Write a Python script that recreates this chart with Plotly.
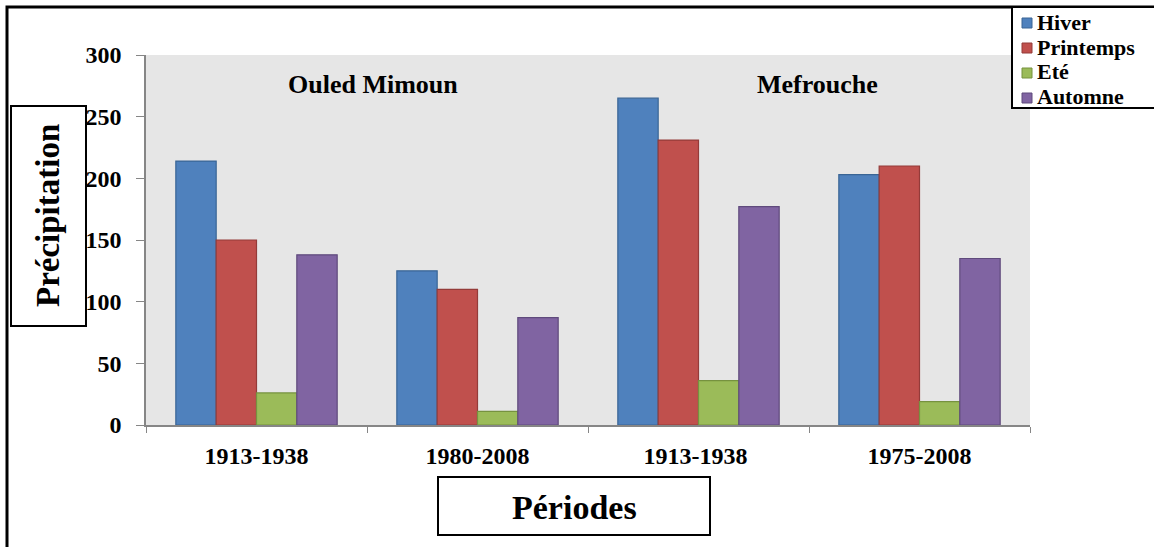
import plotly.graph_objects as go

# data
periodes = ["1913-1938", "1980-2008", "1913-1938 ", "1975-2008"]
hiver = [214, 125, 265, 203]
printemps = [150, 110, 231, 210]
ete = [26, 11, 36, 19]
automne = [138, 87, 177, 135]

saisons = ["Hiver", "Printemps", "Eté", "Automne"]
valeurs = [hiver, printemps, ete, automne]
couleurs = ["#4F81BD", "#C0504D", "#9BBB59", "#8064A2"]
contours = ["#3A6595", "#943B39", "#76923F", "#5F4A7C"]

W, H = 1154, 547
L, R, T, B = 146, 1030, 55, 425  # plot area in pixels


def px(x):
    return (x - L) / (R - L)


def py(y):
    return (B - y) / (B - T)


FONT = "Liberation Serif"

fig = go.Figure()
for nom, vals, c, lc in zip(saisons, valeurs, couleurs, contours):
    fig.add_trace(go.Bar(
        x=periodes, y=vals, name=nom,
        marker=dict(color=c, line=dict(color=lc, width=1.2)),
    ))

fig.update_layout(
    width=W, height=H,
    margin=dict(l=L, r=W - R, t=T, b=H - B, autoexpand=False),
    paper_bgcolor="white",
    plot_bgcolor="#E6E6E6",
    barmode="group",
    bargap=0.27,
    bargroupgap=0,
    font=dict(family=FONT, color="black"),
    showlegend=False,
)

fig.update_xaxes(
    showline=True, linecolor="#868686", linewidth=1.5,
    ticks="outside", tickson="boundaries", ticklen=6, tickcolor="#868686",
    tickfont=dict(family=FONT, size=24, weight="bold"),
    ticklabelstandoff=8,
    showgrid=False, zeroline=False,
)
fig.update_yaxes(
    range=[0, 300], dtick=50,
    showline=True, linecolor="#868686", linewidth=1.5,
    ticks="outside", ticklen=8, tickcolor="#868686",
    tickfont=dict(family=FONT, size=24, weight="bold"),
    ticklabelstandoff=10,
    showgrid=False, zeroline=False,
)

# outer frame
fig.add_shape(type="rect", xref="paper", yref="paper",
              x0=px(7), y0=py(7), x1=px(1170), y1=py(570),
              line=dict(color="black", width=3), layer="below")

# axis title boxes
fig.add_shape(type="rect", xref="paper", yref="paper",
              x0=px(11), x1=px(86), y0=py(106), y1=py(326),
              line=dict(color="black", width=2), fillcolor="white")
fig.add_shape(type="rect", xref="paper", yref="paper",
              x0=px(438), x1=px(710), y0=py(477), y1=py(535),
              line=dict(color="black", width=2), fillcolor="white")

fig.add_annotation(text="<b>Précipitation</b>", xref="paper", yref="paper",
                   x=px(48), y=py(216), xanchor="center", yanchor="middle",
                   textangle=-90, showarrow=False,
                   font=dict(family=FONT, size=33))
fig.add_annotation(text="<b>Périodes</b>", xref="paper", yref="paper",
                   x=px(574), y=py(507), xanchor="center", yanchor="middle",
                   showarrow=False, font=dict(family=FONT, size=34))

# station labels
fig.add_annotation(text="<b>Ouled Mimoun</b>", xref="paper", yref="paper",
                   x=px(373), y=py(85), xanchor="center", yanchor="middle",
                   showarrow=False, font=dict(family=FONT, size=26))
fig.add_annotation(text="<b>Mefrouche</b>", xref="paper", yref="paper",
                   x=px(817), y=py(85), xanchor="center", yanchor="middle",
                   showarrow=False, font=dict(family=FONT, size=26))

# legend box drawn by hand (Excel-style, compact)
fig.add_shape(type="rect", xref="paper", yref="paper",
              x0=px(1012), x1=px(1170), y0=py(108), y1=py(7),
              line=dict(color="black", width=2), fillcolor="white")
for i, (nom, c, lc) in enumerate(zip(saisons, couleurs, contours)):
    yc = 22 + i * 25
    fig.add_shape(type="rect", xref="paper", yref="paper",
                  x0=px(1022), x1=px(1032), y0=py(yc + 6), y1=py(yc - 4),
                  line=dict(color=lc, width=1), fillcolor=c)
    fig.add_annotation(text="<b>" + nom + "</b>", xref="paper", yref="paper",
                       x=px(1035), y=py(yc), xanchor="left", yanchor="middle",
                       showarrow=False, font=dict(family=FONT, size=22))

fig.write_html("out.html", config={"displayModeBar": False},
               post_script="document.body.style.margin='0';")
